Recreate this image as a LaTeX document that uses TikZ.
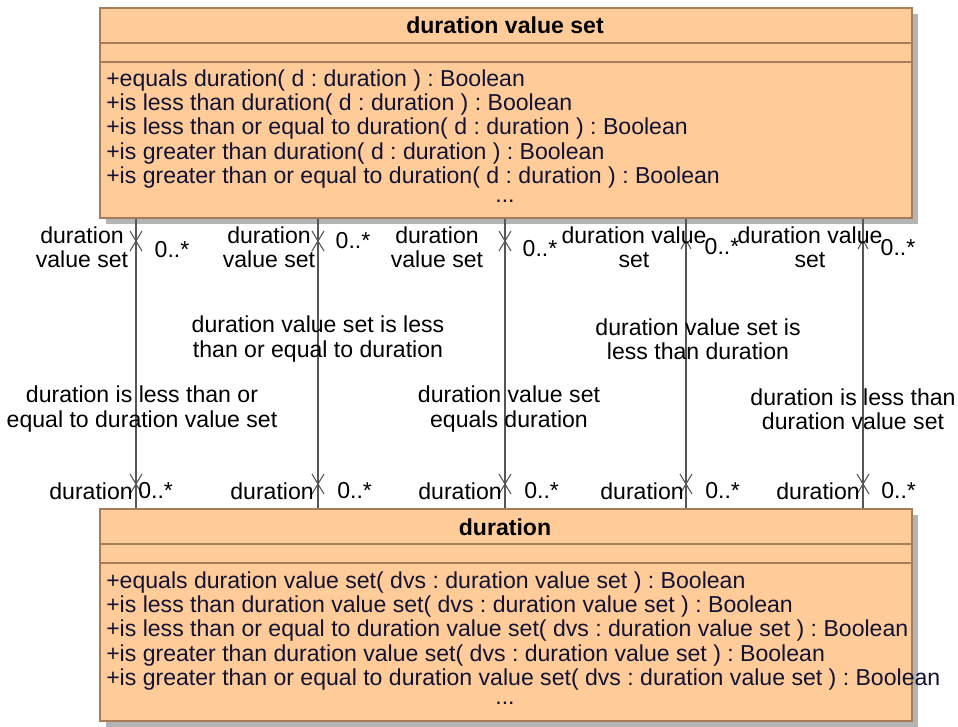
\documentclass[tikz,border=0pt]{standalone}
\usepackage{fontspec}
\setmainfont{Liberation Sans}
\usepackage{xcolor}
\usetikzlibrary{positioning,fit,shadows}
\definecolor{classfill}{RGB}{255,204,153}
\definecolor{classedge}{RGB}{165,125,90}
\definecolor{shadowgray}{RGB}{180,180,180}
\definecolor{optext}{RGB}{18,18,52}
\definecolor{assocline}{RGB}{85,85,85}
\frenchspacing

\begin{document}
\begin{tikzpicture}[
x=0.75pt, y=-0.75pt,
font=\fontsize{17.3}{18.2}\selectfont,
classbox/.style={draw=classedge, fill=classfill, line width=1.2pt, inner sep=0pt,
  drop shadow={shadow xshift=4.5pt, shadow yshift=-4.5pt, fill=shadowgray, opacity=1}},
sepline/.style={draw=classedge, line width=1pt},
title/.style={font=\fontsize{17.3}{18.2}\selectfont\bfseries, inner sep=0pt},
ops/.style={anchor=north west, align=left, inner sep=0pt, text=optext},
more/.style={anchor=base, inner sep=0pt, text=optext},
assoc/.style={draw=assocline, line width=0.9pt},
endx/.style={draw=assocline, line width=0.8pt},
lbl/.style={align=center, inner sep=0pt}
]
\useasboundingbox (0,0) rectangle (958,726);

\node[classbox, fit={(100,8) (912,218)}] (dvs) {};
\node[classbox, fit={(100,509) (912,721)}] (dur) {};

\draw[sepline] (dvs.west |- 0,43) -- (dvs.east |- 0,43);
\draw[sepline] (dvs.west |- 0,62) -- (dvs.east |- 0,62);
\draw[sepline] (dur.west |- 0,544) -- (dur.east |- 0,544);
\draw[sepline] (dur.west |- 0,563) -- (dur.east |- 0,563);

\node[title] (dvstitle) at (505,25) {duration value set};
\node[ops] (dvsops) at (106,69) {\strut+equals duration( d : duration ) : Boolean\\
+is less than duration( d : duration ) : Boolean\\
+is less than or equal to duration( d : duration ) : Boolean\\
+is greater than duration( d : duration ) : Boolean\\
+is greater than or equal to duration( d : duration ) : Boolean};
\node[more] (dvsmore) at (505,202) {...};

\node[title] (durtitle) at (505,527) {duration};
\node[ops] (durops) at (106,571) {\strut+equals duration value set( dvs : duration value set ) : Boolean\\
+is less than duration value set( dvs : duration value set ) : Boolean\\
+is less than or equal to duration value set( dvs : duration value set ) : Boolean\\
+is greater than duration value set( dvs : duration value set ) : Boolean\\
+is greater than or equal to duration value set( dvs : duration value set ) : Boolean};
\node[more] (durmore) at (505,704) {...};

\foreach \x in {136,318,505,686,863}
  \draw[assoc] (\x,0 |- dvs.south) -- (\x,0 |- dur.north);

\foreach \x in {136,318,505}
  \draw[endx] (\x,241) ++(-6,-10) -- ++(12,20) ++(0,-20) -- ++(-12,20);
\foreach \x in {686,863}
  \draw[endx] (\x,240) ++(-5,9) -- ++(5,-9) -- ++(5,9);
\foreach \x in {136,318,505,686,863}
  \draw[endx] (\x,484) ++(-6,-10) -- ++(12,20) ++(0,-20) -- ++(-12,20);

\node[lbl] (role1) at (82,247) {duration\\value set};
\node[lbl] (role2) at (269,247) {duration\\value set};
\node[lbl] (role3) at (437,247) {duration\\value set};
\node[lbl] (role4) at (634,247) {duration value\\set};
\node[lbl] (role5) at (810,247) {duration value\\set};

\node[lbl] (mult1) at (172,250) {0..*};
\node[lbl] (mult2) at (353,241) {0..*};
\node[lbl] (mult3) at (540,249) {0..*};
\node[lbl] (mult4) at (722,247) {0..*};
\node[lbl] (mult5) at (898,248) {0..*};

\node[lbl] (name1) at (142,409) {duration is less than or\\equal to duration value set};
\node[lbl] (name2) at (318,339) {duration value set is less\\than or equal to duration};
\node[lbl] (name3) at (509,409) {duration value set\\equals duration};
\node[lbl] (name4) at (698,339) {duration value set is\\less than duration};
\node[lbl] (name5) at (853,409) {duration is less than\\duration value set};

\node[lbl, anchor=east] (end1) at (133,491) {duration};
\node[lbl, anchor=east] (end2) at (314,491) {duration};
\node[lbl, anchor=east] (end3) at (502,491) {duration};
\node[lbl, anchor=east] (end4) at (684,491) {duration};
\node[lbl, anchor=east] (end5) at (860,491) {duration};

\node[lbl, anchor=west] (endm1) at (138,491) {0..*};
\node[lbl, anchor=west] (endm2) at (337,491) {0..*};
\node[lbl, anchor=west] (endm3) at (524,491) {0..*};
\node[lbl, anchor=west] (endm4) at (705,491) {0..*};
\node[lbl, anchor=west] (endm5) at (881,491) {0..*};
\end{tikzpicture}
\end{document}
